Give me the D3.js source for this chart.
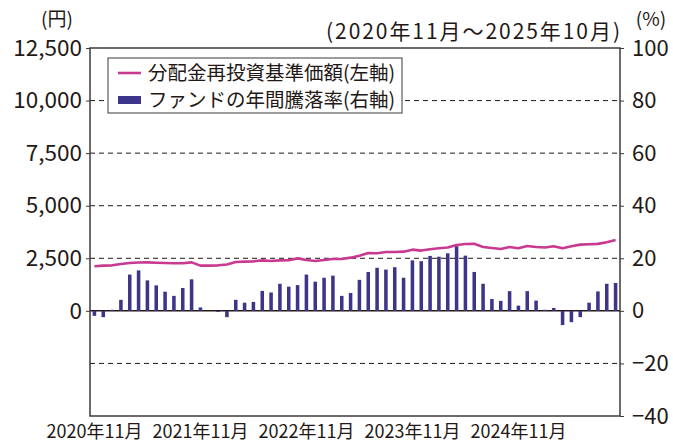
<!DOCTYPE html>
<html>
<head>
<meta charset="utf-8">
<script src="https://cdn.jsdelivr.net/npm/d3@7"></script>
<style>
  body { margin: 0; background: #fff; }
  svg text { font-family: "Noto Sans CJK JP", "Noto Sans", sans-serif; fill: #231815; }
</style>
</head>
<body>
<svg width="673" height="444"></svg>
<script>
// monthly data, 2020-11 .. 2025-10
const months = d3.timeMonths(new Date(2020, 10, 1), new Date(2025, 10, 1));

// 分配金再投資基準価額 (円)
const navValues = [
  2120, 2150, 2165, 2230, 2275, 2300, 2305, 2290, 2275, 2262, 2262, 2305,
  2150, 2150, 2165, 2205, 2320, 2340, 2355, 2400, 2372, 2400, 2405, 2495,
  2420, 2372, 2420, 2465, 2468, 2530, 2620, 2750, 2740, 2800, 2802, 2815,
  2910, 2866, 2930, 2975, 3010, 3130, 3180, 3190, 3040, 2990, 2945, 3040,
  2980, 3085, 3040, 3010, 3070, 2980, 3070, 3150, 3170, 3185, 3265, 3375
];

// ファンドの年間騰落率 (%)
const annualReturns = [
  -1.9, -2.4, 0.4, 4.2, 13.8, 15.4, 11.6, 9.7, 7.3, 5.7, 8.7, 12.0,
  1.3, 0.0, -0.4, -2.4, 4.2, 3.1, 3.4, 7.6, 7.0, 10.3, 9.2, 9.8,
  13.8, 11.1, 12.6, 13.4, 5.7, 6.8, 11.8, 14.8, 16.4, 15.7, 16.6, 12.6,
  19.2, 18.9, 20.9, 20.6, 21.9, 24.6, 21.0, 14.8, 10.3, 4.5, 3.8, 7.5,
  2.0, 7.5, 3.9, 0.4, 1.1, -5.4, -4.3, -2.4, 3.1, 7.4, 10.3, 10.6
];

const leftTicks = [0, 2500, 5000, 7500, 10000, 12500];
const rightTicks = [-40, -20, 0, 20, 40, 60, 80, 100];
const xTickMonths = ["2020-11", "2021-11", "2022-11", "2023-11", "2024-11"];
const xTickLabels = ["2020年11月", "2021年11月", "2022年11月", "2023年11月", "2024年11月"];

const lineColor = "#c8398f";
const barColor = "#3d3589";

const svg = d3.select("svg");
const plotL = 90, plotR = 620, plotT = 48, plotB = 416;

const fmtMonth = d3.timeFormat("%Y-%m");
const keys = months.map(fmtMonth);

const x = d3.scaleBand()
  .domain(keys)
  .range([plotL, plotR])
  .paddingInner(0.6)
  .paddingOuter(0.3);

const yR = d3.scaleLinear().domain([-40, 100]).range([plotB, plotT]);
const yL = d3.scaleLinear().domain([-5000, 12500]).range([plotB, plotT]);

// grid lines (dashed)
svg.append("g")
  .selectAll("line")
  .data(rightTicks.filter(d => d !== 0 && d !== -40 && d !== 100))
  .enter()
  .append("line")
  .attr("x1", plotL).attr("x2", plotR)
  .attr("y1", d => yR(d)).attr("y2", d => yR(d))
  .attr("stroke", "#231815")
  .attr("stroke-width", 1)
  .attr("stroke-dasharray", "5,4");

// zero line
svg.append("line")
  .attr("x1", plotL).attr("x2", plotR)
  .attr("y1", yR(0)).attr("y2", yR(0))
  .attr("stroke", "#231815")
  .attr("stroke-width", 1.5);

// bars
svg.append("g")
  .selectAll("rect")
  .data(annualReturns)
  .enter()
  .append("rect")
  .attr("x", (d, i) => x(keys[i]))
  .attr("width", x.bandwidth())
  .attr("y", d => yR(Math.max(0, d)))
  .attr("height", d => Math.abs(yR(d) - yR(0)))
  .attr("fill", barColor);

// line
const line = d3.line()
  .x((d, i) => x(keys[i]) + x.bandwidth() / 2)
  .y(d => yL(d));

svg.append("path")
  .datum(navValues)
  .attr("d", line)
  .attr("fill", "none")
  .attr("stroke", lineColor)
  .attr("stroke-width", 2.6)
  .attr("stroke-linejoin", "round");

// frame
svg.append("rect")
  .attr("x", plotL).attr("y", plotT)
  .attr("width", plotR - plotL).attr("height", plotB - plotT)
  .attr("fill", "none")
  .attr("stroke", "#3e3a39")
  .attr("stroke-width", 1.5);

// left axis
const axL = svg.append("g")
  .attr("transform", `translate(${plotL},0)`)
  .call(d3.axisLeft(yL).tickValues(leftTicks).tickSize(4).tickPadding(4)
    .tickFormat(d3.format(",")));
axL.select(".domain").remove();
axL.selectAll("line").attr("stroke", "#3e3a39");
axL.selectAll("text").style("font-size", "22.5px").attr("fill", "#231815");

// right axis
const axR = svg.append("g")
  .attr("transform", `translate(${plotR},0)`)
  .call(d3.axisRight(yR).tickValues(rightTicks).tickSize(4).tickPadding(8)
    .tickFormat(d => d < 0 ? "\u2212" + Math.abs(d) : d));
axR.select(".domain").remove();
axR.selectAll("line").attr("stroke", "#3e3a39");
axR.selectAll("text").style("font-size", "22px").attr("fill", "#231815");

// x labels
svg.append("g")
  .selectAll("text")
  .data(xTickLabels)
  .enter()
  .append("text")
  .attr("x", (d, i) => x(xTickMonths[i]) + x.bandwidth() / 2)
  .attr("y", 438)
  .attr("text-anchor", "middle")
  .style("font-size", "18px")
  .text(d => d);

// unit labels + period
svg.append("text").attr("x", 57).attr("y", 26).attr("text-anchor", "middle")
  .style("font-size", "19px").text("(円)");
svg.append("text").attr("x", 651).attr("y", 26).attr("text-anchor", "middle")
  .style("font-size", "19px").text("(%)");
svg.append("text").attr("x", 620).attr("y", 39).attr("text-anchor", "end")
  .attr("textLength", 294).attr("lengthAdjust", "spacing")
  .style("font-size", "21px").text("(2020年11月〜2025年10月)");

// legend
const lg = svg.append("g");
lg.append("rect")
  .attr("x", 108).attr("y", 58).attr("width", 294).attr("height", 55)
  .attr("fill", "#fff").attr("stroke", "#3e3a39").attr("stroke-width", 1);
lg.append("line")
  .attr("x1", 118).attr("x2", 141).attr("y1", 73).attr("y2", 73)
  .attr("stroke", lineColor).attr("stroke-width", 2.6);
lg.append("rect")
  .attr("x", 118).attr("y", 96).attr("width", 23).attr("height", 8)
  .attr("fill", barColor);
lg.append("text").attr("x", 148).attr("y", 80)
  .style("font-size", "19.5px").text("分配金再投資基準価額(左軸)");
lg.append("text").attr("x", 148).attr("y", 107)
  .style("font-size", "19.5px").text("ファンドの年間騰落率(右軸)");
</script>
</body>
</html>
